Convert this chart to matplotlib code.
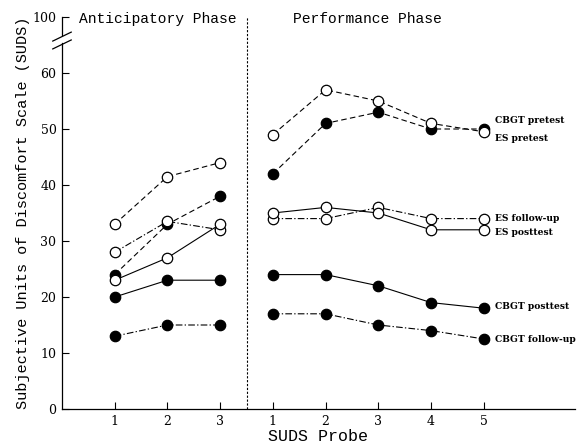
import numpy as np
import matplotlib
matplotlib.use("Agg")
import matplotlib.pyplot as plt
from matplotlib import transforms

# Data
ant_probe = [1, 2, 3]
perf_probe = [1, 2, 3, 4, 5]

es_pre_ant = [33, 41.5, 44]
cbgt_pre_ant = [24, 33, 38]
es_fu_ant = [28, 33.5, 32]
es_post_ant = [23, 27, 33]
cbgt_post_ant = [20, 23, 23]
cbgt_fu_ant = [13, 15, 15]

es_pre_perf = [49, 57, 55, 51, 49.5]
cbgt_pre_perf = [42, 51, 53, 50, 50]
es_fu_perf = [34, 34, 36, 34, 34]
es_post_perf = [35, 36, 35, 32, 32]
cbgt_post_perf = [24, 24, 22, 19, 18]
cbgt_fu_perf = [17, 17, 15, 14, 12.5]

series_names = ["CBGT pretest", "ES pretest", "ES follow-up", "ES posttest",
                "CBGT posttest", "CBGT follow-up"]
label_y = [51.6, 48.3, 34.0, 31.6, 18.3, 12.4]

y_ticks = [0, 10, 20, 30, 40, 50, 60, 70]
y_ticklabels = ["0", "10", "20", "30", "40", "50", "60", "100"]

fig = plt.figure(figsize=(5.78, 4.46), dpi=100)
ax = fig.add_axes([62 / 578, 1 - 409 / 446, 513 / 578, 392 / 446])

ant_x = np.array(ant_probe)
perf_x = np.array(perf_probe) + 3  # performance phase drawn right of divider

dashed = (0, (5, 3))
dashdot = (0, (6, 2, 1.2, 2))
solid = "-"

series = [
    (cbgt_pre_ant, cbgt_pre_perf, True, dashed),
    (es_pre_ant, es_pre_perf, False, dashed),
    (es_fu_ant, es_fu_perf, False, dashdot),
    (es_post_ant, es_post_perf, False, solid),
    (cbgt_post_ant, cbgt_post_perf, True, solid),
    (cbgt_fu_ant, cbgt_fu_perf, True, dashdot),
]

for ant_vals, perf_vals, filled, ls in series:
    for xs, ys in [(ant_x, ant_vals), (perf_x, perf_vals)]:
        ax.plot(xs, ys, color="black", linestyle=ls, linewidth=0.8,
                marker="o", markersize=7.5, markeredgewidth=0.9,
                markerfacecolor="black" if filled else "white",
                markeredgecolor="black", zorder=3)

for name, yv in zip(series_names, label_y):
    ax.text(perf_x[-1] + 0.22, yv, name, fontsize=6.6, fontweight="bold",
            family="DejaVu Serif", va="center", ha="left")

# phase divider
ax.axvline(3.5, color="black", linestyle=(0, (2, 1.5)), linewidth=0.8)

ax.text(0.33, 69.6, "Anticipatory Phase", family="Liberation Mono", fontsize=10.5,
        va="center", ha="left")
ax.text(5.79, 69.6, "Performance Phase", family="Liberation Mono", fontsize=10.5,
        va="center", ha="center")

ax.set_xlim(0, 9.73)
ax.set_ylim(0, 70)
ax.set_xticks(list(ant_x) + list(perf_x))
ax.set_xticklabels([str(p) for p in ant_probe] + [str(p) for p in perf_probe],
                   family="DejaVu Serif", fontsize=9)
ax.set_yticks(y_ticks)
ax.set_yticklabels(y_ticklabels, family="DejaVu Serif", fontsize=9)
ax.tick_params(direction="in", length=5, width=0.8, pad=4)

ax.set_xlabel("SUDS Probe", family="Liberation Mono", fontsize=12, labelpad=1)
ax.set_ylabel("Subjective Units of Discomfort Scale (SUDS)", family="Liberation Mono",
              fontsize=11, labelpad=2)

for s in ["top", "right", "left"]:
    ax.spines[s].set_visible(False)
ax.spines["bottom"].set_linewidth(0.9)

# broken y axis
trans = transforms.blended_transform_factory(ax.transAxes, ax.transData)
ax.plot([0, 0], [0, 65.3], color="black", lw=0.9, transform=trans, clip_on=False)
ax.plot([0, 0], [66.7, 70], color="black", lw=0.9, transform=trans, clip_on=False)
for yb in [65.0, 66.4]:
    ax.plot([-0.018, 0.018], [yb - 0.7, yb + 0.9], color="black", lw=0.9,
            transform=trans, clip_on=False)

fig.savefig("out.png", dpi=100)
